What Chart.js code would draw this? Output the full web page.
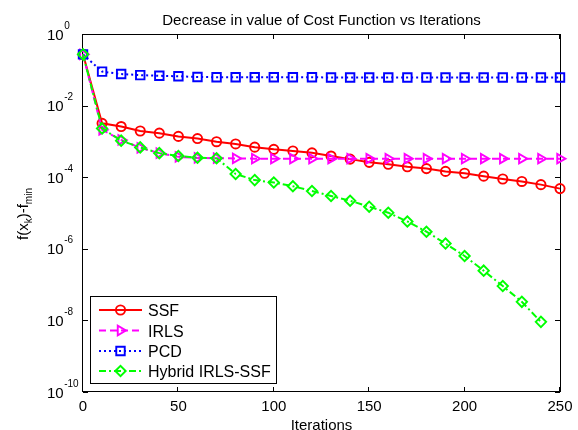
<!DOCTYPE html>
<html><head><meta charset="utf-8">
<script src="https://cdn.jsdelivr.net/npm/chart.js@4.4.1/dist/chart.umd.min.js"></script>
<style>html,body{margin:0;padding:0;background:#fff;} canvas{display:block;}</style>
</head><body>
<canvas id="c" width="578" height="430"></canvas>
<script>
const iterations = [0,10,20,30,40,50,60,70,80,90,100,110,120,130,140,150,160,170,180,190,200,210,220,230,240,250];
const ssfValues = [0.27,3.2e-3,2.6e-3,1.95e-3,1.7e-3,1.38e-3,1.2e-3,9.8e-4,8.5e-4,6.9e-4,6.0e-4,5.4e-4,4.8e-4,3.9e-4,3.2e-4,2.6e-4,2.3e-4,1.95e-4,1.74e-4,1.45e-4,1.29e-4,1.07e-4,8.9e-5,7.6e-5,6.2e-5,4.8e-5];
const irlsValues = [0.27,2.1e-3,1.1e-3,6.6e-4,4.7e-4,3.7e-4,3.45e-4,3.4e-4,3.35e-4,3.3e-4,3.3e-4,3.3e-4,3.3e-4,3.3e-4,3.3e-4,3.3e-4,3.3e-4,3.3e-4,3.3e-4,3.3e-4,3.3e-4,3.3e-4,3.3e-4,3.3e-4,3.3e-4,3.3e-4];
const pcdValues = [0.27,0.089,0.076,0.071,0.068,0.066,0.063,0.062,0.062,0.062,0.062,0.062,0.062,0.061,0.061,0.061,0.061,0.061,0.061,0.061,0.061,0.061,0.061,0.061,0.061,0.061];
const hybridValues = [0.27,2.3e-3,1.05e-3,6.8e-4,4.7e-4,3.9e-4,3.5e-4,3.4e-4,1.23e-4,8.3e-5,7.1e-5,5.6e-5,4.1e-5,3.0e-5,2.2e-5,1.5e-5,1.02e-5,5.8e-6,3.0e-6,1.4e-6,6.3e-7,2.45e-7,9.1e-8,3.3e-8,9.1e-9];
const xTickValues = [0,50,100,150,200,250];
const yTickExponents = [0,-2,-4,-6,-8,-10];
const seriesNames = ['SSF','IRLS','PCD','Hybrid IRLS-SSF'];
const titleText = 'Decrease in value of Cost Function vs Iterations';
const xLabelText = 'Iterations';

const FONT = 'Arial, "Liberation Sans", sans-serif';
function pts(vals){ return vals.map((v,i)=>({x:iterations[i], y:v})); }

const datasets = [
  {label:seriesNames[0], data:pts(ssfValues), borderColor:'#ff0000', borderWidth:2, borderDash:[],
   pointStyle:'circle', pointRadius:4.6, pointBorderWidth:1.9, pointBorderColor:'#ff0000', pointBackgroundColor:'rgba(0,0,0,0)', order:3},
  {label:seriesNames[1], data:pts(irlsValues), borderColor:'#ff00ff', borderWidth:2, borderDash:[7,4],
   pointStyle:'triangle', pointRotation:90, pointRadius:5.5, pointBorderWidth:1.9, pointBorderColor:'#ff00ff', pointBackgroundColor:'rgba(0,0,0,0)', order:2},
  {label:seriesNames[2], data:pts(pcdValues), borderColor:'#0000ff', borderWidth:2, borderDash:[2,3],
   pointStyle:'rect', pointRadius:6, pointBorderWidth:1.9, pointBorderColor:'#0000ff', pointBackgroundColor:'rgba(0,0,0,0)', order:1},
  {label:seriesNames[3], data:pts(hybridValues), borderColor:'#00ff00', borderWidth:2, borderDash:[7,3,2,3],
   pointStyle:'rectRot', pointRadius:5.2, pointBorderWidth:1.9, pointBorderColor:'#00ff00', pointBackgroundColor:'rgba(0,0,0,0)', order:0}
];
datasets.forEach(d=>{ d.tension=0; d.fill=false; d.clip=false; d.pointHoverRadius=d.pointRadius; });

const decorPlugin = {
  id:'decor',
  beforeDatasetsDraw(chart){
    const ctx = chart.ctx, a = chart.chartArea;
    const xs = chart.scales.x, ys = chart.scales.y;
    ctx.save();
    ctx.strokeStyle = '#000'; ctx.lineWidth = 1; ctx.setLineDash([]);
    ctx.strokeRect(Math.round(a.left)-0.5, Math.round(a.top)+0.5, Math.round(a.right-a.left)+1, Math.round(a.bottom-a.top)-1);
    ctx.beginPath();
    xs.ticks.forEach(t=>{
      const px = Math.round(xs.getPixelForValue(t.value))-0.5;
      ctx.moveTo(px, a.bottom); ctx.lineTo(px, a.bottom-5);
      ctx.moveTo(px, a.top); ctx.lineTo(px, a.top+5);
    });
    ys.ticks.forEach(t=>{
      const py = Math.round(ys.getPixelForValue(t.value))+0.5;
      ctx.moveTo(a.left, py); ctx.lineTo(a.left+5, py);
      ctx.moveTo(a.right, py); ctx.lineTo(a.right-5, py);
    });
    ctx.stroke();
    ctx.restore();
  },
  afterDatasetsDraw(chart){
    const ctx = chart.ctx;
    ctx.save();
    ctx.fillStyle = '#fff'; ctx.strokeStyle = '#000'; ctx.lineWidth = 1;
    ctx.fillRect(90.5, 296.5, 186, 87);
    ctx.strokeRect(90.5, 296.5, 186, 87);
    const rows = [310, 330.5, 351, 371];
    chart.data.datasets.forEach((d,i)=>{
      const y = rows[i];
      ctx.save();
      ctx.strokeStyle = d.borderColor; ctx.lineWidth = d.borderWidth; ctx.setLineDash(d.borderDash);
      ctx.beginPath(); ctx.moveTo(99, y); ctx.lineTo(142, y); ctx.stroke();
      ctx.setLineDash([]);
      ctx.strokeStyle = d.pointBorderColor; ctx.fillStyle = 'rgba(0,0,0,0)'; ctx.lineWidth = d.pointBorderWidth;
      Chart.helpers.drawPoint(ctx, {pointStyle:d.pointStyle, rotation:d.pointRotation||0, radius:d.pointRadius, borderWidth:d.pointBorderWidth}, 120.5, y);
      ctx.restore();
      ctx.fillStyle = '#000'; ctx.font = '16px ' + FONT; ctx.textAlign = 'left'; ctx.textBaseline = 'alphabetic';
      ctx.fillText(d.label, 148, y + 6);
    });
    ctx.restore();
  },
  afterDraw(chart){
    const ctx = chart.ctx, a = chart.chartArea;
    const xs = chart.scales.x, ys = chart.scales.y;
    ctx.save();
    ctx.fillStyle = '#000'; ctx.textBaseline = 'alphabetic';
    ctx.font = '15px ' + FONT; ctx.textAlign = 'center';
    ctx.fillText(titleText, (a.left + a.right)/2, 24.5);
    xs.ticks.forEach(t=>{
      ctx.fillText(String(t.value), xs.getPixelForValue(t.value), 410.5);
    });
    ctx.fillText(xLabelText, (a.left + a.right)/2, 430);
    ctx.textAlign = 'left';
    ys.ticks.forEach(t=>{
      const py = ys.getPixelForValue(t.value);
      const e = Math.round(Math.log10(t.value));
      ctx.font = '15px ' + FONT;
      ctx.fillText('10', 47, py + 5.5);
      const w = ctx.measureText('10').width;
      ctx.font = '10px ' + FONT;
      ctx.fillText(e === 0 ? '0' : '-' + Math.abs(e), 47 + w + 0.5, py - 5.5);
    });
    const parts = [['f(x',15,0],['k',10,4],[')-f',15,0],['min',10,4]];
    let total = 0;
    parts.forEach(p=>{ ctx.font = p[1]+'px '+FONT; p.push(ctx.measureText(p[0]).width); total += p[3]; });
    ctx.translate(28, (a.top + a.bottom)/2 + 1);
    ctx.rotate(-Math.PI/2);
    let cx = -total/2;
    parts.forEach(p=>{ ctx.font = p[1]+'px '+FONT; ctx.fillText(p[0], cx, p[2]); cx += p[3]; });
    ctx.restore();
  }
};

new Chart(document.getElementById('c'), {
  type:'line',
  data:{ datasets },
  options:{
    responsive:false, animation:false, devicePixelRatio:1,
    layout:{ padding:{ left:0, top:34, right:18, bottom:0 } },
    plugins:{ legend:{display:false}, tooltip:{enabled:false}, title:{display:false} },
    scales:{
      x:{ type:'linear', min:0, max:250,
          ticks:{display:false}, grid:{display:false}, border:{display:false},
          afterBuildTicks(s){ s.ticks = xTickValues.map(v=>({value:v})); },
          afterFit(s){ s.height = 38; } },
      y:{ type:'logarithmic', min:1e-10, max:1,
          ticks:{display:false}, grid:{display:false}, border:{display:false},
          afterBuildTicks(s){ s.ticks = yTickExponents.map(e=>({value:Math.pow(10,e)})); },
          afterFit(s){ s.width = 83; } }
    }
  },
  plugins:[decorPlugin]
});
</script>
</body></html>
